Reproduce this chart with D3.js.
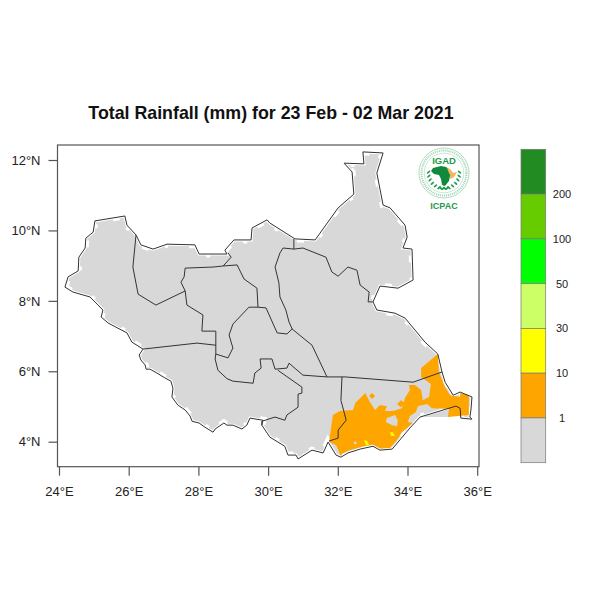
<!DOCTYPE html>
<html lang="en">
<head>
    <meta charset="UTF-8">
    <title>Total Rainfall</title>
    <script src="https://d3js.org/d3.v7.min.js"></script>
    <style>
        html, body { margin: 0; padding: 0; background: #fff; }
        svg { display: block; }
        text { font-family: "Liberation Sans", sans-serif; fill: #222; }
        .axis path, .axis line { stroke: #555; stroke-width: 1.2; }
        .axis text { font-size: 13px; fill: #222; }
        .state { fill: none; stroke: #333; stroke-width: 1; stroke-linejoin: round; }
    </style>
</head>
<body>
<div id="chart"></div>
<script>
    const titleText = "Total Rainfall (mm) for 23 Feb - 02 Mar 2021";
    const lonTicks = [24, 26, 28, 30, 32, 34, 36];
    const latTicks = [4, 6, 8, 10, 12];

    const classColors = ["#228B22", "#66CC00", "#00FF00", "#CCFF66", "#FFFF00", "#FFA500", "#D8D8D8"];
    const classLabels = ["200", "100", "50", "30", "10", "1"];

    // country outline, lon/lat
    const outline = [[24.17,8.39],[24.26,8.68],[24.55,8.85],[24.57,9.24],[24.75,9.50],[24.77,9.78],[24.98,9.95],[25.03,10.27],
        [25.89,10.41],[25.95,10.15],[26.21,9.87],[26.35,9.59],[26.70,9.47],[27.10,9.61],[27.90,9.59],[28.02,9.33],[28.82,9.33],
        [28.76,9.44],[29.02,9.73],[29.51,9.73],[29.54,10.07],[29.97,10.30],[30.05,10.21],[30.77,9.76],[31.35,9.73],[32.01,10.64],
        [32.46,11.03],[32.41,11.66],[32.18,11.91],[32.75,11.89],[32.72,12.23],[33.30,12.20],[33.12,11.63],[33.30,10.72],[33.50,10.64],
        [33.93,10.15],[33.99,9.81],[33.87,9.50],[34.13,9.47],[34.16,8.59],[33.73,8.36],[33.21,8.42],[33.01,7.97],[33.12,7.74],
        [33.64,7.65],[33.93,7.51],[34.50,6.83],[34.87,6.49],[34.99,5.98],[35.08,5.69],[35.31,5.32],[35.51,5.41],[35.85,5.27],
        [35.82,4.90],[35.79,4.70],[35.85,4.64],[35.53,4.67],[35.51,4.95],[35.39,5.01],[34.36,4.70],[34.07,4.39],[33.56,3.79],
        [33.21,3.76],[33.01,3.87],[32.64,3.79],[32.29,3.68],[32.09,3.56],[31.95,3.62],[31.72,3.99],[31.58,3.68],[31.26,3.76],
        [30.86,3.51],[30.80,3.62],[30.57,3.62],[30.48,3.87],[30.05,4.13],[29.82,4.47],[29.85,4.61],[29.48,4.67],[29.39,4.47],
        [29.25,4.36],[28.99,4.47],[28.82,4.47],[28.73,4.53],[28.48,4.36],[28.42,4.27],[28.19,4.41],[28.02,4.53],[27.82,4.58],
        [27.76,4.73],[27.62,4.90],[27.41,5.04],[27.24,5.27],[27.27,5.52],[27.21,5.72],[27.04,5.81],[26.81,5.95],[26.61,6.06],
        [26.50,6.06],[26.47,6.18],[26.35,6.32],[26.30,6.46],[26.41,6.63],[26.09,6.83],[25.95,7.09],[25.41,7.37],[25.21,7.54],
        [25.26,7.74],[24.89,8.11],[24.40,8.25]];

    // state borders
    const stateLines = [
        [[26.21,9.87],[26.12,8.96],[26.27,8.19],[26.78,7.88],[27.62,8.28]],
        [[28.85,9.36],[28.94,9.24],[28.71,8.99],[28.42,8.96],[27.62,8.93],[27.59,8.68],[27.50,8.53],[27.62,8.28],[27.67,7.88],[28.13,7.60],[28.10,7.14],[28.50,7.14],[28.50,6.49]],
        [[26.41,6.63],[27.96,6.80],[28.50,6.74]],
        [[28.71,8.99],[29.11,9.02],[29.31,8.62],[29.68,8.36],[29.71,7.82]],
        [[29.71,7.82],[29.45,7.82],[28.99,7.34],[28.88,7.03],[28.99,6.66],[28.85,6.38],[28.50,6.49],[28.48,6.35],[28.56,6.03],[28.82,5.79],[28.99,5.72],[29.57,5.66],[29.62,5.95],[29.80,6.09],[29.77,6.35],[30.11,6.35],[30.20,6.06],[30.54,6.09],[30.60,6.23],[31.00,5.89],[31.69,5.84],[32.21,5.84],[34.16,5.69],[34.99,5.98]],
        [[29.71,7.82],[29.94,7.80],[30.26,7.09],[30.54,7.06],[30.69,7.20]],
        [[30.74,9.76],[30.74,9.47],[30.43,9.50],[30.34,9.36],[30.20,8.96],[30.31,8.51],[30.34,8.11],[30.51,7.74],[30.60,7.40],[30.69,7.20],[31.26,6.74],[31.69,5.84]],
        [[30.74,9.47],[31.00,9.50],[31.66,9.24],[31.83,8.82],[32.01,8.70],[32.29,8.96],[32.55,8.87],[32.64,8.45],[32.90,8.25],[32.87,7.97],[33.01,7.97]],
        [[30.28,6.03],[30.97,5.55],[30.97,5.38],[30.86,5.35],[30.86,4.98],[30.54,4.76],[30.48,4.61],[30.20,4.70],[29.82,4.58],[29.82,4.47]],
        [[32.12,5.84],[32.09,5.17],[32.18,4.84],[32.24,4.61],[32.01,4.33],[32.01,4.10],[31.75,4.02]]
    ];

    // rainfall classes
    const grayPatch = [[34.42,4.70],[35.16,4.70],[35.39,4.98]];
    const orangeAreas = [
        [[31.75,3.99],[31.83,4.56],[31.86,4.76],[32.06,4.87],[32.44,4.90],[32.50,5.10],[32.79,5.38],[32.92,5.13],[33.07,4.90],[33.21,5.04],[33.41,5.01],[33.35,4.87],[33.58,4.87],
         [33.84,4.95],[33.93,5.25],[34.07,5.47],[34.04,5.61],[34.21,5.61],[34.39,5.47],[34.44,5.18],[34.62,5.27],[34.67,5.64],[34.39,5.84],[34.39,6.09],[34.87,6.49],[34.90,5.98],[35.08,5.55],[35.22,5.32],
         [35.51,5.27],[35.51,5.38],[35.76,5.32],[35.76,4.76],[35.16,4.70],[35.19,4.93],[34.70,4.95],[34.56,5.07],[34.30,5.01],[34.24,4.84],[34.07,4.73],[34.01,4.56],[34.15,4.53],[33.84,4.27],[33.70,4.05],
         [33.50,3.82],[33.21,3.81],[33.01,3.92],[32.64,3.84],[32.29,3.74],[32.12,3.65],[32.09,3.59],[31.95,3.90]],
        [[32.90,5.30],[32.98,5.38],[33.07,5.30],[32.98,5.21]],
        [[33.70,5.07],[33.81,5.18],[33.93,5.10],[33.81,4.98]]
    ];
    const grayHoles = [
        [[33.41,4.67],[33.64,4.76],[33.72,4.61],[33.70,4.44],[33.56,4.47],[33.38,4.56]],
        [[32.45,3.98],[32.52,4.01],[32.55,3.95],[32.48,3.92]]
    ];
    const yellowAreas = [
        [[32.75,4.05],[32.84,4.02],[32.90,3.90],[32.81,3.90]],
        [[33.50,4.27],[33.58,4.27],[33.64,4.16],[33.53,4.16]]
    ];

    const width = 600, height = 600;
    const frame = {left: 57.5, right: 479, top: 145, bottom: 466.7};

    const x = d3.scaleLinear().domain([24, 36]).range([59, 477.2]);
    const y = d3.scaleLinear().domain([4, 12]).range([441.7, 160]);
    const shape = d3.line().x(d => x(d[0])).y(d => y(d[1]));
    const ring = d => shape(d) + "Z";

    const svg = d3.select("#chart").append("svg").attr("width", width).attr("height", height);

    svg.append("text")
        .attr("x", 271).attr("y", 118.5)
        .attr("text-anchor", "middle")
        .style("font-size", "17.8px").style("font-weight", "bold").style("fill", "#111")
        .text(titleText);

    drawMap(svg.append("g"));
    drawAxes(svg.append("g"));
    drawColorbar(svg.append("g"));
    drawLogo(svg.append("g").attr("transform", "translate(444,173)"));

    function drawMap(g) {
        svg.append("defs").append("clipPath").attr("id", "country")
            .append("path").attr("d", ring(outline));

        g.append("path").attr("d", ring(outline)).attr("fill", classColors[6]);
        g.append("path").attr("d", ring(grayPatch)).attr("fill", classColors[6]);
        // the raster stops short of the coast, in uneven blocks
        g.append("path").attr("d", ring(outline))
            .attr("fill", "none").attr("stroke", "#fff").attr("stroke-width", 3)
            .attr("clip-path", "url(#country)");
        g.append("path").attr("d", ring(outline))
            .attr("fill", "none").attr("stroke", "#fff").attr("stroke-width", 7)
            .attr("stroke-dasharray", "7 16 4 21")
            .attr("clip-path", "url(#country)");

        g.selectAll("path.orange").data(orangeAreas).enter().append("path")
            .attr("class", "orange").attr("d", ring).attr("fill", classColors[5]);
        g.selectAll("path.hole").data(grayHoles).enter().append("path")
            .attr("class", "hole").attr("d", ring).attr("fill", classColors[6]);
        g.selectAll("path.yellow").data(yellowAreas).enter().append("path")
            .attr("class", "yellow").attr("d", ring).attr("fill", classColors[4]);

        g.selectAll("path.state").data(stateLines).enter().append("path")
            .attr("class", "state").attr("d", shape);
        g.append("path").attr("class", "state").attr("d", ring(outline)).attr("stroke-width", 0.9);
    }

    function drawAxes(g) {
        g.append("rect")
            .attr("x", frame.left).attr("y", frame.top)
            .attr("width", frame.right - frame.left).attr("height", frame.bottom - frame.top)
            .attr("fill", "none").attr("stroke", "#555").attr("stroke-width", 1.2);

        const bottom = d3.axisBottom(x).tickValues(lonTicks).tickSize(9).tickPadding(11)
            .tickFormat(d => d + "°E");
        g.append("g").attr("class", "axis").attr("transform", `translate(0,${frame.bottom})`).call(bottom)
            .select(".domain").remove();

        const left = d3.axisLeft(y).tickValues(latTicks).tickSize(9).tickPadding(8)
            .tickFormat(d => d + "°N");
        g.append("g").attr("class", "axis").attr("transform", `translate(${frame.left},0)`).call(left)
            .select(".domain").remove();
    }

    function drawColorbar(g) {
        const band = d3.scaleBand().domain(d3.range(classColors.length)).range([149.3, 462.7]);
        g.selectAll("rect").data(classColors).enter().append("rect")
            .attr("x", 521).attr("width", 24.7)
            .attr("y", (d, i) => band(i)).attr("height", band.bandwidth())
            .attr("fill", d => d).attr("stroke", "#777").attr("stroke-width", 0.7);
        g.selectAll("text").data(classLabels).enter().append("text")
            .attr("x", 562).attr("y", (d, i) => band(i + 1) + 4)
            .attr("text-anchor", "middle")
            .style("font-size", "11px")
            .text(d => d);
    }

    function drawLogo(g) {
        const green = "#1f9a4d";
        g.append("circle").attr("r", 25).attr("fill", "none").attr("stroke", green).attr("stroke-width", 0.5).attr("opacity", 0.7);
        g.append("circle").attr("r", 22.5).attr("fill", "none").attr("stroke", green).attr("stroke-width", 2)
            .attr("stroke-dasharray", "1 1").attr("opacity", 0.45);
        g.append("circle").attr("r", 19.8).attr("fill", "none").attr("stroke", green).attr("stroke-width", 0.4).attr("opacity", 0.6);

        g.append("text").attr("y", -9).attr("text-anchor", "middle")
            .style("font-size", "9.5px").style("font-weight", "bold").style("fill", green).text("IGAD");
        g.append("text").attr("y", 36).attr("text-anchor", "middle")
            .style("font-size", "9px").style("font-weight", "bold").style("fill", green).text("ICPAC");

        // Africa with the horn picked out in orange
        g.append("path").attr("fill", "#0f8a3c")
            .attr("d", "M-11,-5 L-3,-7 L2,-6 L5,-4 L8,-1 L6,3 L5,8 L1,13 L-2,12 L-3,6 L-5,2 L-10,1 L-13,-2 Z");
        g.append("path").attr("fill", "#f2b65a")
            .attr("d", "M3,-5 L7,-3 L9,0 L13,-1 L10,4 L6,6 L6,2 L5,0 Z");

        // laurel leaves on both sides
        d3.range(8).forEach(i => {
            const a = (i * 15 + 8) * Math.PI / 180;
            [-1, 1].forEach(side => {
                const cx = side * 15.5 * Math.cos(a - 0.2);
                const cy = 15.5 * Math.sin(a - 0.2);
                g.append("ellipse")
                    .attr("cx", cx).attr("cy", cy)
                    .attr("rx", 2.2).attr("ry", 0.9)
                    .attr("fill", green)
                    .attr("transform", `rotate(${side * 40} ${cx} ${cy})`);
            });
        });
    }
</script>
</body>
</html>
